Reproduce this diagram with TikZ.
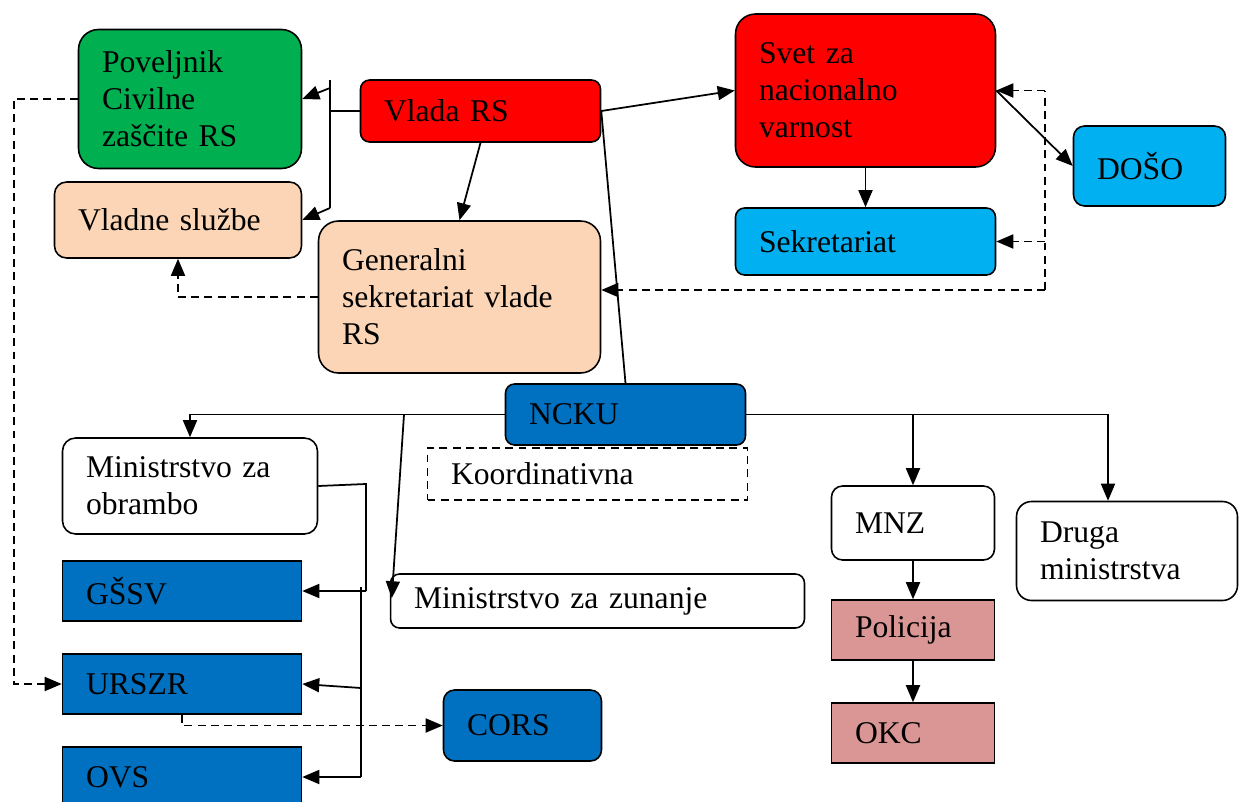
\documentclass[tikz,border=0pt]{standalone}
\usepackage{fontspec}
\setmainfont{Liberation Serif}
\usetikzlibrary{arrows.meta,calc}
\definecolor{grn}{HTML}{00B050}
\definecolor{rd}{HTML}{FF0000}
\definecolor{peach}{HTML}{FBD5B5}
\definecolor{lblue}{HTML}{00B0F0}
\definecolor{dblue}{HTML}{0070C0}
\definecolor{pink}{HTML}{D99694}

\begin{document}
\begin{tikzpicture}[x=0.02cm,y=-0.02cm,line width=1pt,
arr/.style={-{Triangle[length=0.34cm,width=0.28cm]}},
box/.style={draw,line width=0.9pt,align=left,inner xsep=0.47cm,inner ysep=0pt,font=\fontsize{18}{21}\selectfont},
dsh/.style={dash pattern=on 4.5pt off 3pt}]
\fill[white] (0,0) rectangle (1240,801);
\useasboundingbox (0,0) rectangle (1240,801);

\node[box,fill=grn,rounded corners=0.4cm,text width=3.52cm,minimum height=2.78cm] (pov) at (190,99) {Poveljnik\\Civilne\\zaščite RS};
\node[box,fill=rd,rounded corners=0.18cm,text width=3.86cm,minimum height=1.24cm] (vlada) at (480.5,111) {Vlada RS};
\node[box,fill=peach,rounded corners=0.24cm,text width=4.0cm,minimum height=1.52cm] (vladne) at (178,220) {Vladne službe};
\node[box,fill=peach,rounded corners=0.4cm,text width=4.7cm,minimum height=3.04cm] (gensek) at (459.5,297) {Generalni\\sekretariat vlade\\RS};
\node[box,fill=rd,rounded corners=0.4cm,text width=4.26cm,minimum height=3.06cm] (svet) at (865.5,90.5) {Svet za\\nacionalno\\varnost};
\node[box,fill=lblue,rounded corners=0.18cm,text width=4.26cm,minimum height=1.34cm] (sekr) at (865.5,241.5) {Sekretariat};
\node[box,fill=lblue,rounded corners=0.22cm,text width=2.1cm,minimum height=1.6cm] (doso) at (1149.5,166) {DOŠO};
\node[box,fill=dblue,rounded corners=0.18cm,text width=3.86cm,minimum height=1.22cm] (ncku) at (625.5,414.5) {NCKU};
\node[box,dsh,text width=5.46cm,minimum height=1.04cm] (koord) at (587.5,474) {Koordinativna};
\node[box,fill=white,rounded corners=0.26cm,text width=4.16cm,minimum height=1.92cm] (obr) at (190,486) {Ministrstvo za\\obrambo};
\node[box,fill=dblue,text width=3.84cm,minimum height=1.2cm] (gssv) at (182,591) {GŠSV};
\node[box,fill=dblue,text width=3.84cm,minimum height=1.2cm] (urszr) at (182,684) {URSZR};
\node[box,fill=dblue,text width=3.84cm,minimum height=1.2cm] (ovs) at (182,777) {OVS};
\node[box,fill=dblue,rounded corners=0.22cm,text width=2.22cm,minimum height=1.42cm] (cors) at (522.5,725.5) {CORS};
\node[box,fill=white,rounded corners=0.18cm,text width=7.34cm,minimum height=1.08cm] (zun) at (597.5,601) {Ministrstvo za zunanje};
\node[box,fill=white,rounded corners=0.22cm,text width=2.32cm,minimum height=1.48cm] (mnz) at (913,523) {MNZ};
\node[box,fill=white,rounded corners=0.3cm,text width=3.48cm,minimum height=1.98cm] (druga) at (1127,551) {Druga\\ministrstva};
\node[box,fill=pink,text width=2.32cm,minimum height=1.2cm] (pol) at (913,630) {Policija};
\node[box,fill=pink,text width=2.32cm,minimum height=1.2cm] (okc) at (913,733) {OKC};

\coordinate (jv1) at (330,80);
\coordinate (jv2) at (330,208);
\coordinate (jv3) at (330,88);
\draw (jv1) -- (jv2);
\draw (vlada.west) -- (vlada.west -| jv1);
\draw[arr] (jv3) -- (pov.east);
\draw[arr] (jv2) -- (vladne.east);
\draw[arr] (vlada.south) -- (gensek.north);
\draw[arr] (vlada.east) -- (svet.west);
\draw (vlada.east) -- (ncku.north);
\draw[arr] (svet.south) -- (sekr.north);
\draw[arr] (svet.east) -- (doso.west);

\coordinate (dr) at (1045,290);
\draw[dsh] (dr) -- (dr |- svet.east);
\draw[dsh,arr] (dr |- svet.east) -- (svet.east);
\draw[dsh,arr] (dr |- sekr.east) -- (sekr.east);
\draw[dsh,arr] (dr) -- (gensek.east |- dr);

\coordinate (dl) at (14,0);
\draw[dsh,arr] (pov.west) -- (pov.west -| dl) -- (dl |- urszr.west) -- (urszr.west);
\draw[dsh,arr] (gensek.west) -| (vladne.south);

\draw[arr] (ncku.west) -| (obr.north);
\draw[arr] (ncku.east) -| ($(druga.north)+(-19,0)$);
\draw[arr] (ncku.east -| mnz.north) -- (mnz.north);
\coordinate (zt) at (404,414.5);
\draw[arr] (zt) -- ($(zun.north west)+(2,25)$);

\coordinate (ob1) at (366,484);
\coordinate (ob2) at (361,587);
\coordinate (ob4) at (361,688);
\draw (obr.east) -- (ob1) -- (ob1 |- gssv.east);
\draw[arr] (ob1 |- gssv.east) -- (gssv.east);
\draw (ob2) -- (ob2 |- ovs.east);
\draw[arr] (ob2 |- ovs.east) -- (ovs.east);
\draw[arr] (ob4) -- (urszr.east);
\draw[dsh,arr] (urszr.south) |- (cors.west);

\draw[arr] (mnz.south) -- (pol.north);
\draw[arr] (pol.south) -- (okc.north);
\end{tikzpicture}
\end{document}
